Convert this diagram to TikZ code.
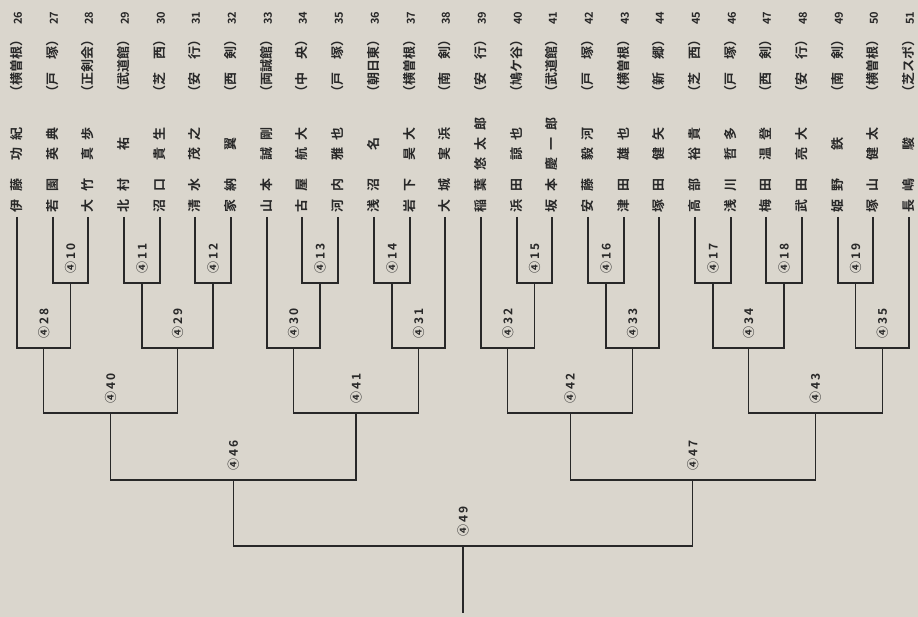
\documentclass[tikz,border=0pt]{standalone}
\usepackage{fontspec}
\newfontfamily\jp{Noto Sans CJK JP}[BoldFont={Noto Sans CJK JP Bold}]
\usetikzlibrary{positioning}

\definecolor{paper}{RGB}{218,214,205}
\definecolor{ink}{RGB}{40,40,40}

% surname spread over its box, given name letter spaced, school, entry number
\newcommand\twochar[2]{#1\hfill#2}
\newcommand\playertext[4]{\makebox[34pt][s]{\twochar#1}\hspace{10pt}\makebox[50pt]{\addfontfeature{LetterSpace=55}#2}\hspace{20pt}（#3）\hspace{9pt}{\fontsize{11pt}{11pt}\selectfont #4}}

\begin{document}
\begin{tikzpicture}[x=1pt, y=1pt,
  pl/.style={rotate=90, anchor=west, inner xsep=4pt, inner ysep=0pt, text=ink, font=\jp\bfseries\fontsize{13pt}{13pt}\selectfont},
  lab/.style={rotate=90, anchor=west, inner sep=0pt, text=ink, font=\jp\bfseries\fontsize{12pt}{12pt}\selectfont\addfontfeature{LetterSpace=18}},
  ln/.style={draw=ink, line width=1.2pt}]
  \fill[paper] (0,0) rectangle (918,-617);
  \useasboundingbox (0,0) rectangle (918,-617);

  % players
  \node[pl] (p26) at (17,-217) {\playertext{伊藤}{功紀}{横曽根}{26}};
  \node[pl] (p27) at (53,-217) {\playertext{若園}{英典}{戸　塚}{27}};
  \node[pl] (p28) at (88,-217) {\playertext{大竹}{真歩}{正剣会}{28}};
  \node[pl] (p29) at (124,-217) {\playertext{北村}{祐}{武道館}{29}};
  \node[pl] (p30) at (160,-217) {\playertext{沼口}{貴生}{芝　西}{30}};
  \node[pl] (p31) at (195,-217) {\playertext{清水}{茂之}{安　行}{31}};
  \node[pl] (p32) at (231,-217) {\playertext{家納}{翼}{西　剣}{32}};
  \node[pl] (p33) at (267,-217) {\playertext{山本}{誠剛}{両誠館}{33}};
  \node[pl] (p34) at (302,-217) {\playertext{古屋}{航大}{中　央}{34}};
  \node[pl] (p35) at (338,-217) {\playertext{河内}{雅也}{戸　塚}{35}};
  \node[pl] (p36) at (374,-217) {\playertext{浅沼}{名}{朝日東}{36}};
  \node[pl] (p37) at (410,-217) {\playertext{岩下}{昊大}{横曽根}{37}};
  \node[pl] (p38) at (445,-217) {\playertext{大城}{実浜}{南　剣}{38}};
  \node[pl] (p39) at (481,-217) {\playertext{稲葉}{悠太郎}{安　行}{39}};
  \node[pl] (p40) at (517,-217) {\playertext{浜田}{諒也}{鳩ケ谷}{40}};
  \node[pl] (p41) at (552,-217) {\playertext{坂本}{慶一郎}{武道館}{41}};
  \node[pl] (p42) at (588,-217) {\playertext{安藤}{毅河}{戸　塚}{42}};
  \node[pl] (p43) at (624,-217) {\playertext{津田}{雄也}{横曽根}{43}};
  \node[pl] (p44) at (659,-217) {\playertext{塚田}{健矢}{新　郷}{44}};
  \node[pl] (p45) at (695,-217) {\playertext{高部}{裕貴}{芝　西}{45}};
  \node[pl] (p46) at (731,-217) {\playertext{浅川}{哲多}{戸　塚}{46}};
  \node[pl] (p47) at (766,-217) {\playertext{梅田}{温登}{西　剣}{47}};
  \node[pl] (p48) at (802,-217) {\playertext{武田}{亮大}{安　行}{48}};
  \node[pl] (p49) at (838,-217) {\playertext{姫野}{鉄}{南　剣}{49}};
  \node[pl] (p50) at (873,-217) {\playertext{塚山}{健太}{横曽根}{50}};
  \node[pl] (p51) at (909,-217) {\playertext{長嶋}{駿}{芝スポ}{51}};

  % match points
  \coordinate (c10) at (70.5,-283);
  \coordinate (c11) at (142,-283);
  \coordinate (c12) at (213,-283);
  \coordinate (c13) at (320,-283);
  \coordinate (c14) at (392,-283);
  \coordinate (c15) at (534.5,-283);
  \coordinate (c16) at (606,-283);
  \coordinate (c17) at (713,-283);
  \coordinate (c18) at (784,-283);
  \coordinate (c19) at (855.5,-283);
  \coordinate (c28) at (43.75,-348);
  \coordinate (c29) at (177.5,-348);
  \coordinate (c30) at (293.5,-348);
  \coordinate (c31) at (418.5,-348);
  \coordinate (c32) at (507.75,-348);
  \coordinate (c33) at (632.5,-348);
  \coordinate (c34) at (748.5,-348);
  \coordinate (c35) at (882.25,-348);
  \coordinate (c40) at (110.6,-413);
  \coordinate (c41) at (356,-413);
  \coordinate (c42) at (570.1,-413);
  \coordinate (c43) at (815.4,-413);
  \coordinate (c46) at (233.3,-480);
  \coordinate (c47) at (692.8,-480);
  \coordinate (c49) at (463,-546);
  \coordinate (end) at (463,-613);

  % first round
  \draw[ln] (p27.west) |- (c10) -| (p28.west);
  \draw[ln] (p29.west) |- (c11) -| (p30.west);
  \draw[ln] (p31.west) |- (c12) -| (p32.west);
  \draw[ln] (p34.west) |- (c13) -| (p35.west);
  \draw[ln] (p36.west) |- (c14) -| (p37.west);
  \draw[ln] (p40.west) |- (c15) -| (p41.west);
  \draw[ln] (p42.west) |- (c16) -| (p43.west);
  \draw[ln] (p45.west) |- (c17) -| (p46.west);
  \draw[ln] (p47.west) |- (c18) -| (p48.west);
  \draw[ln] (p49.west) |- (c19) -| (p50.west);
  % second round
  \draw[ln] (p26.west) |- (c28) -| (c10);
  \draw[ln] (c11) |- (c29) -| (c12);
  \draw[ln] (p33.west) |- (c30) -| (c13);
  \draw[ln] (c14) |- (c31) -| (p38.west);
  \draw[ln] (p39.west) |- (c32) -| (c15);
  \draw[ln] (c16) |- (c33) -| (p44.west);
  \draw[ln] (c17) |- (c34) -| (c18);
  \draw[ln] (c19) |- (c35) -| (p51.west);
  % later rounds
  \draw[ln] (c28) |- (c40) -| (c29);
  \draw[ln] (c30) |- (c41) -| (c31);
  \draw[ln] (c32) |- (c42) -| (c33);
  \draw[ln] (c34) |- (c43) -| (c35);
  \draw[ln] (c40) |- (c46) -| (c41);
  \draw[ln] (c42) |- (c47) -| (c43);
  \draw[ln] (c46) |- (c49) -| (c47);
  \draw[ln] (c49) -- (end);

  % match numbers
  \foreach \m in {10,...,19,28,29,...,35,40,41,42,43,46,47,49}
    \node[lab] (m\m) at ([yshift=9pt]c\m) {④\m};
\end{tikzpicture}
\end{document}
